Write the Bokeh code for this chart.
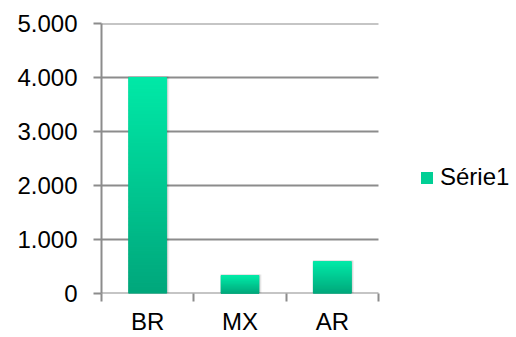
from bokeh.plotting import figure
from bokeh.models import Range1d, FixedTicker, Legend, LegendItem
from bokeh.embed import file_html
from bokeh.resources import INLINE

# Chart data
categories = ["BR", "MX", "AR"]
values = [4000, 330, 590]
y_ticks = [0, 1000, 2000, 3000, 4000, 5000]
y_tick_labels = ["0", "1.000", "2.000", "3.000", "4.000", "5.000"]
series_name = "Série1"

FONT = "Liberation Sans"
FONT_SIZE = "24px"
AXIS_GREY = "#8c8c8c"
TOP_RGB = (0, 233, 167)
BOTTOM_RGB = (0, 166, 123)
BAR_WIDTH = 0.41
N_SLICES = 60

LEFT, TOP, BOTTOM = 101, 23, 43
PLOT_W, PLOT_H = 516, 337
CAT_PX = 92.33  # pixel width of one category slot
n = len(categories)
# frame spans to the right edge so the legend can sit beside the bars
x_max = (PLOT_W - LEFT) / CAT_PX

p = figure(width=PLOT_W, height=PLOT_H, output_backend="svg", toolbar_location=None,
           x_range=Range1d(0, x_max), y_range=Range1d(0, y_ticks[-1]),
           min_border_left=LEFT, min_border_right=0,
           min_border_top=TOP, min_border_bottom=BOTTOM)
p.outline_line_color = None
p.background_fill_color = "white"
p.border_fill_color = "white"

centers = [i + 0.5 for i in range(n)]

# horizontal gridlines limited to the category area
p.segment(x0=[0] * len(y_ticks), x1=[n] * len(y_ticks), y0=y_ticks, y1=y_ticks,
          line_color=AXIS_GREY, line_width=2)

# soft shadow behind each bar
for spread, alpha in [(0.030, 0.05), (0.020, 0.07), (0.010, 0.09)]:
    p.quad(left=[c - BAR_WIDTH / 2 - spread * 0.3 for c in centers],
           right=[c + BAR_WIDTH / 2 + spread for c in centers],
           bottom=[0] * n,
           top=[v + 20 for v in values],
           fill_color="#000000", fill_alpha=alpha, line_color=None)

# bars with a vertical gradient (bright at the top, darker at the base)
lefts, rights, bottoms, tops, colors = [], [], [], [], []
for c, v in zip(centers, values):
    for i in range(N_SLICES):
        t = (i + 0.5) / N_SLICES  # 0 at base, 1 at top
        r = round(BOTTOM_RGB[0] + (TOP_RGB[0] - BOTTOM_RGB[0]) * t)
        g = round(BOTTOM_RGB[1] + (TOP_RGB[1] - BOTTOM_RGB[1]) * t)
        b = round(BOTTOM_RGB[2] + (TOP_RGB[2] - BOTTOM_RGB[2]) * t)
        lefts.append(c - BAR_WIDTH / 2)
        rights.append(c + BAR_WIDTH / 2)
        bottoms.append(v * i / N_SLICES)
        tops.append(v * (i + 1) / N_SLICES)
        colors.append("#%02x%02x%02x" % (r, g, b))
p.quad(left=lefts, right=rights, bottom=bottoms, top=tops,
       fill_color=colors, line_color=colors, line_width=1)

# legend swatch renderer (zero-size, only used for the legend glyph)
swatch = p.quad(left=[0], right=[0], bottom=[0], top=[0],
                fill_color="#00cf95", line_color=None)

p.xgrid.visible = False
p.ygrid.visible = False

# y axis
yax = p.yaxis[0]
yax.ticker = FixedTicker(ticks=y_ticks)
yax.major_label_overrides = {t: lab for t, lab in zip(y_ticks, y_tick_labels)}
yax.axis_line_color = AXIS_GREY
yax.axis_line_width = 2
yax.major_tick_line_color = AXIS_GREY
yax.major_tick_line_width = 2
yax.major_tick_out = 8
yax.major_tick_in = 0
yax.minor_tick_line_color = None
yax.major_label_text_font = FONT
yax.major_label_text_font_size = FONT_SIZE
yax.major_label_text_color = "#000000"
yax.major_label_standoff = 16

# x axis: labels at bar centres, tick marks between categories
xax = p.xaxis[0]
xax.ticker = FixedTicker(ticks=centers, minor_ticks=list(range(n + 1)))
xax.major_label_overrides = {c: cat for c, cat in zip(centers, categories)}
xax.axis_line_color = None
xax.major_tick_line_color = None
xax.major_tick_out = 0
xax.major_tick_in = 0
xax.minor_tick_line_color = AXIS_GREY
xax.minor_tick_line_width = 2
xax.minor_tick_out = 8
xax.minor_tick_in = 0
xax.major_label_text_font = FONT
xax.major_label_text_font_size = FONT_SIZE
xax.major_label_text_color = "#000000"
xax.major_label_standoff = 6

legend = Legend(items=[LegendItem(label=series_name, renderers=[swatch])],
                location=(318, 102))
legend.border_line_color = None
legend.background_fill_alpha = 0
legend.glyph_width = 15
legend.glyph_height = 15
legend.label_standoff = 6
legend.padding = 0
legend.margin = 0
legend.label_text_font = FONT
legend.label_text_font_size = FONT_SIZE
legend.label_text_color = "#000000"
p.add_layout(legend, "center")

open("out.html", "w").write(file_html(p, INLINE))
